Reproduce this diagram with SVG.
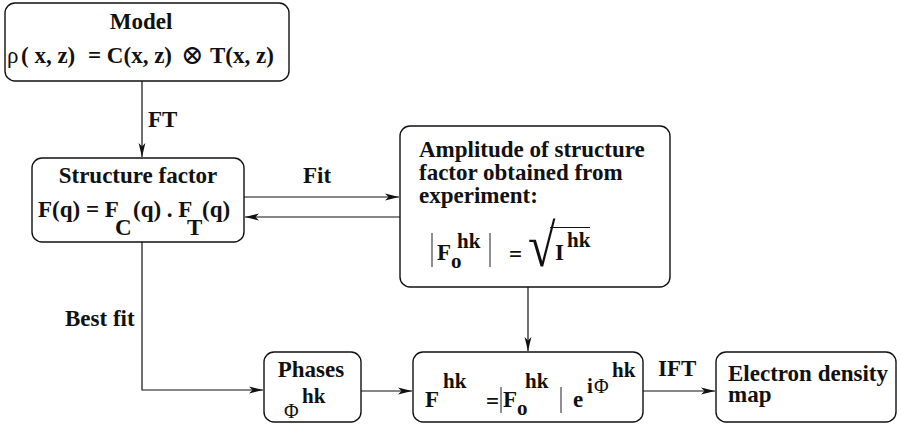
<svg xmlns="http://www.w3.org/2000/svg" width="901" height="428" viewBox="0 0 901 428">
<defs>
<style>
.box{fill:#fff;stroke:#111;stroke-width:1.4}
.ln{fill:none;stroke:#111;stroke-width:1.2}
.bar{stroke:#333;stroke-width:1.1}
text{font-family:"Liberation Serif","DejaVu Serif",serif;font-weight:bold;font-size:23px;fill:#111}
.n{font-weight:normal}
.s{font-size:21px}
</style>
<marker id="ah" markerUnits="userSpaceOnUse" markerWidth="15" markerHeight="8" refX="14" refY="4" orient="auto">
<path d="M0,0.6 L14,4 L0,7.4 L3.5,4 z" fill="#111"/>
</marker>
</defs>
<rect width="901" height="428" fill="#fff"/>
<g id="connectors">
<line class="ln" x1="142" y1="81" x2="142" y2="157" marker-end="url(#ah)"/>
<text x="148" y="127">FT</text>
<line class="ln" x1="244" y1="197" x2="399" y2="197" marker-end="url(#ah)"/>
<text x="317" y="183" text-anchor="middle">Fit</text>
<line class="ln" x1="400" y1="217" x2="245" y2="217" marker-end="url(#ah)"/>
<line class="ln" x1="528" y1="287" x2="528" y2="351" marker-end="url(#ah)"/>
<polyline class="ln" points="142,242 142,390 263,390" marker-end="url(#ah)"/>
<text x="65" y="326">Best fit</text>
<line class="ln" x1="361" y1="391" x2="412" y2="391" marker-end="url(#ah)"/>
<line class="ln" x1="643" y1="391" x2="715" y2="391" marker-end="url(#ah)"/>
<text x="658" y="376">IFT</text>
</g>
<g id="model">
<rect class="box" x="5" y="3" width="284" height="78" rx="10"/>
<text x="141" y="29" text-anchor="middle">Model</text>
<text x="7" y="63" class="n">ρ</text>
<text x="21" y="63">( x, z)</text>
<text x="88" y="63">= C(x, z)</text>
<text x="181" y="64" class="n" style="font-size:27px">⊗</text>
<text x="210" y="63">T(x, z)</text>
</g>
<g id="structure">
<rect class="box" x="32" y="158" width="212" height="84" rx="10"/>
<text x="138" y="183" text-anchor="middle">Structure factor</text>
<text x="38" y="217">F(q) = F</text>
<text x="115" y="235">C</text>
<text x="133" y="217">(q) . F</text>
<text x="187" y="235">T</text>
<text x="202" y="217">(q)</text>
</g>
<g id="amplitude">
<rect class="box" x="400" y="126" width="270" height="161" rx="10"/>
<text x="419" y="157">Amplitude of structure</text>
<text x="419" y="180">factor obtained from</text>
<text x="419" y="203">experiment:</text>
<line class="bar" x1="432" y1="233" x2="432" y2="267"/>
<text x="437" y="260">F</text>
<text x="451" y="268" class="s">o</text>
<text x="457" y="248" class="s">hk</text>
<line class="bar" x1="490" y1="233" x2="490" y2="267"/>
<text x="509" y="262">=</text>
<text transform="translate(528,266) scale(1.25,1.5)" class="n" style="font-size:40px;font-weight:300">√</text>
<line class="ln" x1="550" y1="227.5" x2="590" y2="227.5"/>
<text x="555" y="260">I</text>
<text x="567" y="247" class="s">hk</text>
</g>
<g id="phases">
<rect class="box" x="264" y="352" width="97" height="70" rx="10"/>
<text x="311" y="377" text-anchor="middle">Phases</text>
<text x="284" y="418" class="n" style="font-size:20px">Φ</text>
<text x="302" y="403" class="s">hk</text>
</g>
<g id="fhk">
<rect class="box" x="413" y="352" width="230" height="70" rx="10"/>
<text x="425" y="407">F</text>
<text x="443" y="388" class="s">hk</text>
<text x="486" y="409">=</text>
<line class="bar" x1="501" y1="387" x2="501" y2="413"/>
<text x="503" y="407">F</text>
<text x="517" y="415" class="s">o</text>
<text x="525" y="388" class="s">hk</text>
<line class="bar" x1="561" y1="387" x2="561" y2="413"/>
<text x="573" y="407">e</text>
<text x="587" y="393" class="s">i</text>
<text x="594" y="393" class="n" style="font-size:20px">Φ</text>
<text x="612" y="377" class="s">hk</text>
</g>
<g id="density">
<rect class="box" x="716" y="352" width="180" height="70" rx="10"/>
<text x="728" y="381">Electron density</text>
<text x="728" y="402">map</text>
</g>
</svg>
